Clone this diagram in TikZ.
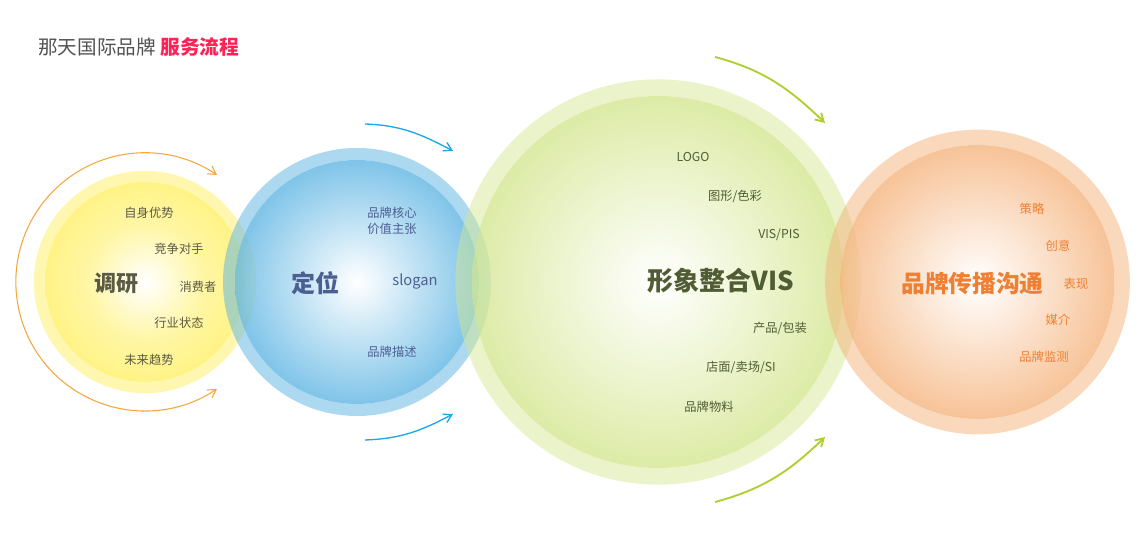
\documentclass[tikz,border=0pt]{standalone}
\usepackage{fontspec}
\setmainfont{Noto Sans CJK SC}
\usetikzlibrary{arrows.meta,shapes,calc}
\definecolor{sun}{HTML}{FFF066}
\definecolor{sky}{HTML}{5FB5E3}
\definecolor{leaf}{HTML}{D4E690}
\definecolor{peach}{HTML}{F5B47E}
\definecolor{sunline}{HTML}{F4A63F}
\definecolor{skyline}{HTML}{1BA8E6}
\definecolor{leafline}{HTML}{ADD02F}
\definecolor{sunText}{HTML}{5A5A45}
\definecolor{skyText}{HTML}{4C5F92}
\definecolor{leafText}{HTML}{4F5C34}
\definecolor{peachText}{HTML}{EF7F33}
\pgfdeclareradialshading{sunCore}{\pgfpointorigin}{color(0bp)=(white); color(14bp)=(sun!72!white); color(25bp)=(sun); color(50bp)=(sun)}
\pgfdeclareradialshading{skyCore}{\pgfpointorigin}{color(0bp)=(white); color(25bp)=(sky); color(50bp)=(sky)}
\pgfdeclareradialshading{leafCore}{\pgfpointorigin}{color(0bp)=(white); color(25bp)=(leaf); color(50bp)=(leaf)}
\pgfdeclareradialshading{peachCore}{\pgfpointorigin}{color(0bp)=(white); color(25bp)=(peach); color(50bp)=(peach)}
\tikzset{
    x=0.75pt,y=0.75pt,
    ring/.style ={circle, draw=#1, draw opacity=0.52, inner sep=0pt, outer sep=0pt},
    core/.style ={circle, shading=#1, fill opacity=0.8, inner sep=0pt, outer sep=0pt},
    item/.style ={font=\fontsize{9.2pt}{11.6pt}\selectfont, text=#1, inner sep=0pt, align=center},
    head/.style 2 args={font=\fontsize{#2}{20pt}\selectfont\bfseries, text=#1, inner sep=0pt},
    flow/.style ={draw=#1, line width=1pt, -{Straight Barb[length=6pt,width=7pt]}}
}
\begin{document}
\begin{tikzpicture}
      \useasboundingbox (0,0) rectangle (1140,559);

      \node[anchor=west, inner sep=0pt, font=\fontsize{14.7pt}{18pt}\selectfont, text=black!68] (title) at (38,512) {那天国际品牌};
      \node[anchor=west, inner sep=0pt, font=\fontsize{14.8pt}{18pt}\selectfont\bfseries, text={rgb,255:red,255;green,34;blue,85}] (service) at (160,512) {服务流程};

      % circles
      \node[core=sunCore, minimum size=150pt] (research) at (145,277) {};
      \node[ring=sun, minimum size=158.4pt, line width=8.4pt] (researchRing) at (145,277) {};
      \node[core=skyCore, minimum size=183pt] (position) at (357,277) {};
      \node[ring=sky, minimum size=192pt, line width=9pt] (positionRing) at (357,277) {};
      \node[core=leafCore, minimum size=279pt] (image) at (658,277) {};
      \node[ring=leaf, draw opacity=0.48, minimum size=291.5pt, line width=12.5pt] (imageRing) at (658,277) {};
      \node[core=peachCore, minimum size=205.5pt] (spread) at (977.5,277) {};
      \node[ring=peach, minimum size=217pt, line width=11.5pt] (spreadRing) at (977.5,277) {};

      % arrows
      \coordinate (a1) at (217,384);
      \draw[sunline, line width=0.8pt, {Straight Barb[length=6pt,width=7pt]}-{Straight Barb[length=6pt,width=7pt]}] (a1) arc[start angle=56, end angle=304, radius=129];
      \coordinate (b1) at (365,435);
      \coordinate (b2) at (453,408);
      \coordinate (b3) at (365,119);
      \coordinate (b4) at (453,145);
      \draw[flow=skyline] (b1) to[out=-2, in=152] (b2);
      \draw[flow=skyline] (b3) to[out=2, in=-152] (b4);
      \coordinate (c1) at (715,502);
      \coordinate (c2) at (825,436);
      \coordinate (c3) at (715,57);
      \coordinate (c4) at (825,122);
      \draw[flow=leafline, line width=1.4pt] (c1) to[out=-15, in=136] (c2);
      \draw[flow=leafline, line width=1.4pt] (c3) to[out=15, in=-136] (c4);

      % labels
      \node[head={sunText}{16.5pt}] (researchHead) at (116,276) {调研};
      \node[item=sunText] (r1) at (149,346) {自身优势};
      \node[item=sunText] (r2) at (179,310) {竞争对手};
      \node[item=sunText] (r3) at (198,272) {消费者};
      \node[item=sunText] (r4) at (179,236) {行业状态};
      \node[item=sunText] (r5) at (149,199) {未来趋势};

      \node[head={skyText}{18pt}] (positionHead) at (315,276) {定位};
      \node[item=skyText] (p1) at (392,338) {品牌核心\\价值主张};
      \node[item=skyText, font=\fontsize{11pt}{13pt}\selectfont] (p2) at (415,277) {slogan};
      \node[item=skyText] (p3) at (392,207) {品牌描述};

      \node[head={leafText}{19.5pt}] (imageHead) at (721,278) {形象整合VIS};
      \node[item=leafText] (i1) at (693,402) {LOGO};
      \node[item=leafText] (i2) at (735,363) {图形/色彩};
      \node[item=leafText] (i3) at (779,324) {VIS/PIS};
      \node[item=leafText] (i4) at (780,231) {产品/包装};
      \node[item=leafText] (i5) at (741,192) {店面/卖场/SI};
      \node[item=leafText] (i6) at (709,152) {品牌物料};

      \node[head={peachText}{17.8pt}] (spreadHead) at (972.5,275) {品牌传播沟通};
      \node[item=peachText] (s1) at (1032,350) {策略};
      \node[item=peachText] (s2) at (1058,313) {创意};
      \node[item=peachText] (s3) at (1076,275) {表现};
      \node[item=peachText] (s4) at (1058,239) {媒介};
      \node[item=peachText] (s5) at (1044,202) {品牌监测};
\end{tikzpicture}
\end{document}
